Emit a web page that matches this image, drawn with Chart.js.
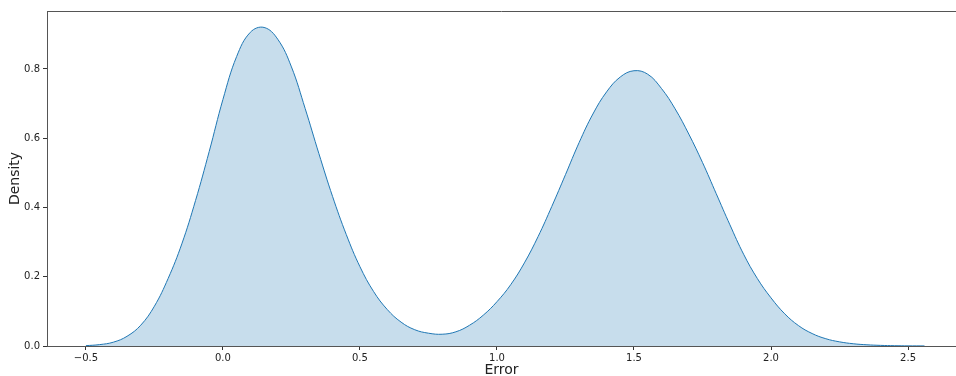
<!DOCTYPE html>
<html>
<head>
<meta charset="utf-8">
<script src="https://cdn.jsdelivr.net/npm/chart.js@4"></script>
<style>
  html, body { margin: 0; padding: 0; background: #fff; overflow: hidden; }
</style>
</head>
<body>
<canvas id="grafica" width="956" height="376"></canvas>
<script>
const errorValues = [
  -0.50, -0.45, -0.40, -0.35, -0.30, -0.25, -0.20, -0.15, -0.10, -0.05,
  0.00, 0.05, 0.10, 0.15, 0.20, 0.25, 0.30, 0.35, 0.40, 0.45,
  0.50, 0.55, 0.60, 0.65, 0.70, 0.75, 0.80, 0.85, 0.90, 0.95,
  1.00, 1.05, 1.10, 1.15, 1.20, 1.25, 1.30, 1.35, 1.40, 1.45,
  1.50, 1.55, 1.60, 1.65, 1.70, 1.75, 1.80, 1.85, 1.90, 1.95,
  2.00, 2.05, 2.10, 2.15, 2.20, 2.25, 2.30, 2.35, 2.40, 2.45,
  2.50, 2.56
];
const densityValues = [
  0.001, 0.004, 0.011, 0.028, 0.060, 0.115, 0.195, 0.295, 0.420, 0.562,
  0.712, 0.836, 0.906, 0.920, 0.886, 0.806, 0.686, 0.556, 0.432, 0.322,
  0.229, 0.157, 0.105, 0.069, 0.047, 0.037, 0.034, 0.041, 0.060, 0.089,
  0.128, 0.177, 0.240, 0.316, 0.403, 0.495, 0.588, 0.670, 0.734, 0.777,
  0.795, 0.785, 0.744, 0.685, 0.612, 0.530, 0.440, 0.350, 0.265, 0.195,
  0.139, 0.093, 0.059, 0.036, 0.021, 0.012, 0.0065, 0.0035, 0.0018, 0.0009,
  0.0004, 0.0002
];
const xTicks = [-0.5, 0.0, 0.5, 1.0, 1.5, 2.0, 2.5];
const yTicks = [0.0, 0.2, 0.4, 0.6, 0.8];

const puntos = errorValues.map((x, i) => ({ x: x, y: densityValues[i] }));

const fmt = v => v.toFixed(1).replace('-', '\u2212');

// linea superior del marco
const bordeSuperior = {
  id: 'bordeSuperior',
  afterDraw(chart) {
    const a = chart.chartArea;
    const ctx = chart.ctx;
    ctx.save();
    ctx.strokeStyle = '#555';
    ctx.lineWidth = 1;
    ctx.beginPath();
    ctx.moveTo(a.left, a.top + 0.5);
    ctx.lineTo(a.right, a.top + 0.5);
    ctx.stroke();
    ctx.restore();
  }
};

const ctx = document.getElementById('grafica');
const myChart = new Chart(ctx, {
  type: 'line',
  data: {
    datasets: [{
      label: 'Density',
      data: puntos,
      borderColor: '#1f77b4',
      backgroundColor: 'rgba(31, 119, 180, 0.25)',
      borderWidth: 1,
      fill: 'origin',
      pointRadius: 0,
      tension: 0.4
    }]
  },
  options: {
    responsive: false,
    animation: false,
    layout: { padding: { top: 11, right: 0, left: 0, bottom: 0 } },
    plugins: { legend: { display: false }, tooltip: { enabled: false } },
    scales: {
      x: {
        type: 'linear',
        min: -0.642,
        max: 2.675,
        afterFit: s => { s.height = 30; },
        afterBuildTicks: s => { s.ticks = xTicks.map(v => ({ value: v })); },
        grid: { drawOnChartArea: false, drawTicks: true, tickLength: 4, color: '#333' },
        border: { display: true, color: '#555', width: 1 },
        ticks: {
          padding: 2,
          color: '#222',
          font: { family: 'DejaVu Sans', size: 10 },
          callback: v => fmt(v),
          maxRotation: 0
        },
        title: {
          display: true,
          text: 'Error',
          color: '#222',
          font: { family: 'DejaVu Sans', size: 14, lineHeight: 0.8 },
          padding: { top: 0, bottom: 0 }
        }
      },
      y: {
        type: 'linear',
        min: 0,
        max: 0.9675,
        afterFit: s => { s.width = 47; },
        afterBuildTicks: s => { s.ticks = yTicks.map(v => ({ value: v })); },
        grid: { drawOnChartArea: false, drawTicks: true, tickLength: 4, color: '#333' },
        border: { display: true, color: '#555', width: 1 },
        ticks: {
          padding: 3,
          color: '#222',
          font: { family: 'DejaVu Sans', size: 10 },
          callback: v => fmt(v)
        },
        title: {
          display: true,
          text: 'Density',
          color: '#222',
          font: { family: 'DejaVu Sans', size: 14, lineHeight: 0.8 },
          padding: { top: 10, bottom: 0 }
        }
      }
    }
  },
  plugins: [bordeSuperior]
});
</script>
</body>
</html>
